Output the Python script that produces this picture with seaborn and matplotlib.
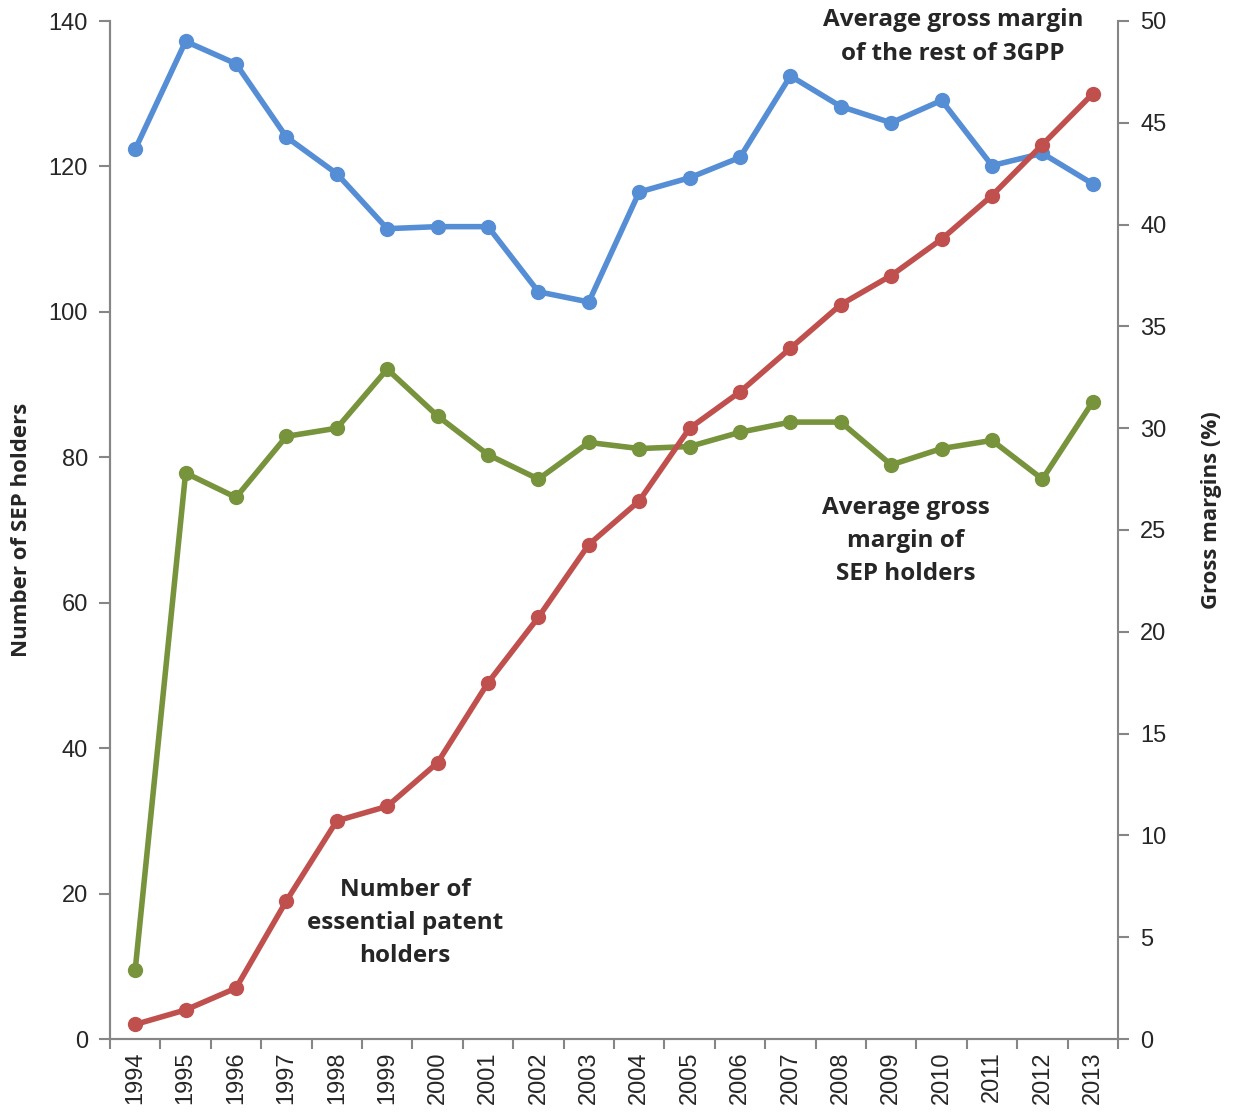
import matplotlib
matplotlib.use("Agg")
import matplotlib.pyplot as plt
import seaborn as sns
import pandas as pd
import numpy as np
from matplotlib.ticker import FixedLocator

years = [str(y) for y in range(1994, 2014)]
sep_holders = [2, 4, 7, 19, 30, 32, 38, 49, 58, 68, 74, 84, 89, 95, 101, 105, 110, 116, 123, 130]
margin_rest_3gpp = [43.7, 49.0, 47.9, 44.3, 42.5, 39.8, 39.9, 39.9, 36.7, 36.2, 41.6, 42.3, 43.3,
                    47.3, 45.8, 45.0, 46.1, 42.9, 43.5, 42.0]
margin_sep = [3.4, 27.8, 26.6, 29.6, 30.0, 32.9, 30.6, 28.7, 27.5, 29.3, 29.0, 29.1, 29.8,
              30.3, 30.3, 28.2, 29.0, 29.4, 27.5, 31.3]

sns.set_theme(style="white")
plt.rcParams["font.family"] = ["Liberation Sans", "DejaVu Sans"]

BLUE = "#558ED5"
RED = "#C0504D"
GREEN = "#77933C"
GRAY = "#868686"

df = pd.DataFrame({"x": np.arange(len(years)), "holders": sep_holders,
                   "rest": margin_rest_3gpp, "sep": margin_sep})

W, H = 1233, 1113
fig = plt.figure(figsize=(W / 100, H / 100), dpi=100)
ax = fig.add_axes([110 / W, 1 - 1039 / H, (1118 - 110) / W, (1039 - 21) / H])
ax2 = ax.twinx()

line_kw = dict(linewidth=4.0, marker="o", markersize=11, markeredgewidth=0)
sns.lineplot(data=df, x="x", y="rest", ax=ax2, color=BLUE, **line_kw)
sns.lineplot(data=df, x="x", y="sep", ax=ax2, color=GREEN, **line_kw)
sns.lineplot(data=df, x="x", y="holders", ax=ax, color=RED, **line_kw)

# red series should sit above the blue one where they cross
ax.set_zorder(ax2.get_zorder() + 1)
ax.patch.set_visible(False)

ax.set_xlim(-0.5, len(years) - 0.5)
ax.set_ylim(0, 140)
ax2.set_ylim(0, 50)
ax.set_yticks(np.arange(0, 141, 20))
ax2.set_yticks(np.arange(0, 51, 5))

ax.set_xticks(np.arange(len(years)))
ax.set_xticklabels(years, rotation=90)
ax.xaxis.set_minor_locator(FixedLocator(np.arange(-0.5, len(years), 1.0)))
ax.tick_params(axis="x", which="major", length=0, pad=9, labelsize=17)
ax.tick_params(axis="x", which="minor", length=7, width=1.5, color=GRAY, direction="out", bottom=True)
ax.tick_params(axis="y", length=8, width=1.5, color=GRAY, direction="out", left=True, labelsize=17, pad=8)
ax2.tick_params(axis="y", length=8, width=1.5, color=GRAY, direction="out", right=True, labelsize=17, pad=8)

for a in (ax, ax2):
    a.set_xlabel("")
    a.set_ylabel("")
    a.spines["top"].set_visible(False)
    for s in ("left", "right", "bottom"):
        a.spines[s].set_color(GRAY)
        a.spines[s].set_linewidth(1.5)
ax.spines["right"].set_visible(False)

lab_font = dict(fontsize=16, fontweight="bold", family=["Open Sans", "DejaVu Sans"])
fig.text(22 / W, 1 - 530 / H, "Number of SEP holders", rotation=90, ha="center", va="center", **lab_font)
fig.text(1211 / W, 1 - 510 / H, "Gross margins (%)", rotation=90, ha="center", va="center", **lab_font)

note_font = dict(fontsize=17.5, fontweight="bold", family=["Open Sans", "DejaVu Sans"],
                 ha="center", va="center", linespacing=1.5)
fig.text(953 / W, 1 - 37 / H, "Average gross margin\nof the rest of 3GPP", **note_font)
fig.text(405 / W, 1 - 923 / H, "Number of\nessential patent\nholders", **note_font)
fig.text(906 / W, 1 - 541 / H, "Average gross\nmargin of\nSEP holders", **note_font)

fig.savefig("out.png", dpi=100, facecolor="white")
